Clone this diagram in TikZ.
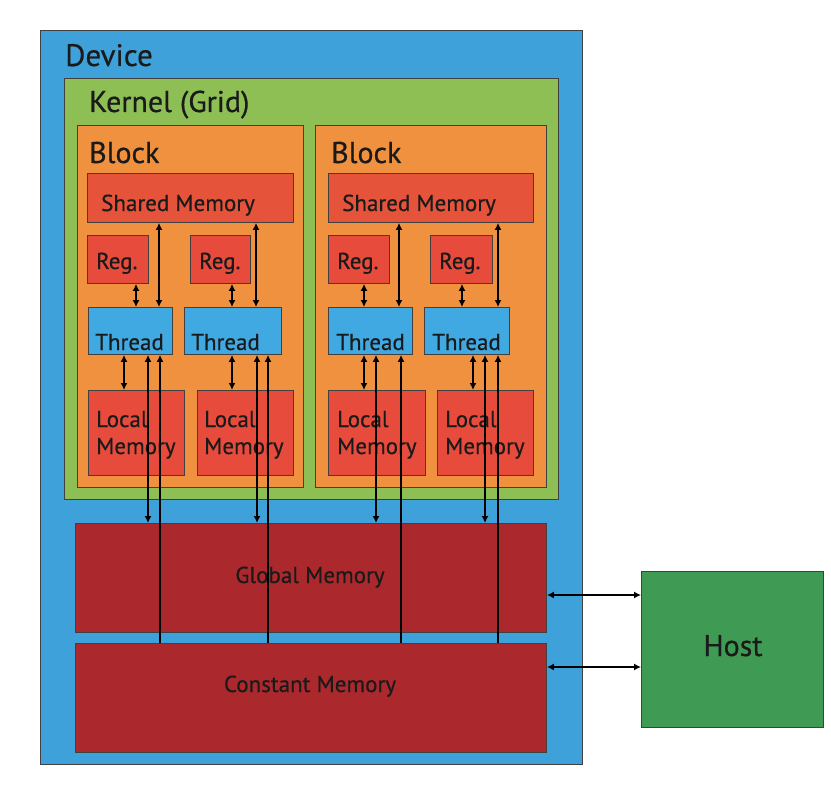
\documentclass[tikz,border=0pt]{standalone}
\usepackage{fontspec}
\setmainfont{PT Sans}[FakeBold=0.5]
\usetikzlibrary{arrows.meta}
\definecolor{devblue}{HTML}{3FA1D9}
\definecolor{kgreen}{HTML}{8DBF55}
\definecolor{borange}{HTML}{EF913F}
\definecolor{shred}{HTML}{E5533B}
\definecolor{regred}{HTML}{E74B3C}
\definecolor{thblue}{HTML}{41A9E1}
\definecolor{gmem}{HTML}{AB292D}
\definecolor{hostgreen}{HTML}{3F9B53}
\definecolor{txtc}{HTML}{1A1A1A}
\begin{document}
\begin{tikzpicture}[x=1pt,y=-1pt,
  box/.style={draw=black!75, line width=0.9pt, anchor=north west, inner sep=0pt},
  big/.style={text=txtc, inner sep=0pt, font=\fontsize{30}{32}\selectfont},
  small/.style={text=txtc, inner sep=0pt, font=\fontsize{23}{25}\selectfont},
  arr/.style={line width=1.3pt, {Latex[length=7pt,width=7pt]}-{Latex[length=7pt,width=7pt]}},
  uarr/.style={line width=1.3pt, -{Latex[length=7pt,width=7pt]}},
]
\useasboundingbox (0,0) rectangle (831,797);

% containers
\node[box, fill=devblue, minimum width=542pt, minimum height=734pt] (dev) at (40,30) {};
\node[big, anchor=base west, font=\fontsize{31}{33}\selectfont] (devlbl) at (65,66) {Device};
\node[box, fill=kgreen, minimum width=494pt, minimum height=421pt] (ker) at (64,78) {};
\node[big, anchor=base west] (kerlbl) at (89,112) {Kernel (Grid)};
\node[box, fill=borange, minimum width=226pt, minimum height=362pt] (b1) at (77,125) {};
\node[box, fill=borange, minimum width=231pt, minimum height=362pt] (b2) at (315,125) {};
\node[big, anchor=base west] (b1lbl) at (89,163) {Block};
\node[big, anchor=base west] (b2lbl) at (331,163) {Block};

% block 1
\node[box, fill=shred, minimum width=206pt, minimum height=49pt] (s1) at (87,173) {};
\node[small, anchor=base west] (s1lbl) at (101,211) {Shared Memory};
\node[box, fill=regred, minimum width=61pt, minimum height=48pt] (r11) at (87,235) {};
\node[box, fill=regred, minimum width=60pt, minimum height=48pt] (r12) at (190,235) {};
\node[small, anchor=base west] (r11lbl) at (96,269) {Reg.};
\node[small, anchor=base west] (r12lbl) at (199,269) {Reg.};
\node[box, fill=thblue, minimum width=84pt, minimum height=47pt] (t11) at (88,307) {};
\node[box, fill=thblue, minimum width=97pt, minimum height=47pt] (t12) at (184,307) {};
\node[small, anchor=base west] (t11lbl) at (95,350) {Thread};
\node[small, anchor=base west] (t12lbl) at (191,350) {Thread};
\node[box, fill=regred, minimum width=96pt, minimum height=85pt] (l11) at (88,390) {};
\node[box, fill=regred, minimum width=96pt, minimum height=85pt] (l12) at (197,390) {};
\node[small, anchor=base west] (l11a) at (96,427) {Local};
\node[small, anchor=base west] (l11b) at (96,454) {Memory};
\node[small, anchor=base west] (l12a) at (204,427) {Local};
\node[small, anchor=base west] (l12b) at (204,454) {Memory};

% block 2
\node[box, fill=shred, minimum width=205pt, minimum height=49pt] (s2) at (328,173) {};
\node[small, anchor=base west] (s2lbl) at (342,211) {Shared Memory};
\node[box, fill=regred, minimum width=61pt, minimum height=48pt] (r21) at (328,235) {};
\node[box, fill=regred, minimum width=62pt, minimum height=48pt] (r22) at (430,235) {};
\node[small, anchor=base west] (r21lbl) at (337,269) {Reg.};
\node[small, anchor=base west] (r22lbl) at (439,269) {Reg.};
\node[box, fill=thblue, minimum width=84pt, minimum height=47pt] (t21) at (328,307) {};
\node[box, fill=thblue, minimum width=85pt, minimum height=47pt] (t22) at (424,307) {};
\node[small, anchor=base west] (t21lbl) at (336,350) {Thread};
\node[small, anchor=base west] (t22lbl) at (432,350) {Thread};
\node[box, fill=regred, minimum width=97pt, minimum height=85pt] (l21) at (328,390) {};
\node[box, fill=regred, minimum width=96pt, minimum height=85pt] (l22) at (437,390) {};
\node[small, anchor=base west] (l21a) at (337,427) {Local};
\node[small, anchor=base west] (l21b) at (337,454) {Memory};
\node[small, anchor=base west] (l22a) at (445,427) {Local};
\node[small, anchor=base west] (l22b) at (445,454) {Memory};

% global / constant / host
\node[box, fill=gmem, minimum width=471pt, minimum height=109pt] (glob) at (75,523) {};
\node[small, anchor=base] (globlbl) at (310,583) {Global Memory};
\node[box, fill=gmem, minimum width=471pt, minimum height=109pt] (const) at (75,643) {};
\node[small, anchor=base] (constlbl) at (310,692) {Constant Memory};
\node[box, fill=hostgreen, minimum width=182pt, minimum height=156pt] (host) at (641,571) {};
\node[big, anchor=base] (hostlbl) at (733,656) {Host};

% reg <-> thread
\draw[arr] (136,0 |- r11.south) -- (136,0 |- t11.north);
\draw[arr] (232,0 |- r12.south) -- (232,0 |- t12.north);
\draw[arr] (364,0 |- r21.south) -- (364,0 |- t21.north);
\draw[arr] (462,0 |- r22.south) -- (462,0 |- t22.north);
% shared <-> thread
\draw[arr] (159,0 |- s1.south) -- (159,0 |- t11.north);
\draw[arr] (256,0 |- s1.south) -- (256,0 |- t12.north);
\draw[arr] (399,0 |- s2.south) -- (399,0 |- t21.north);
\draw[arr] (498,0 |- s2.south) -- (498,0 |- t22.north);
% thread <-> local
\draw[arr, line width=1.8pt] (124,0 |- t11.south) -- (124,0 |- l11.north);
\draw[arr, line width=1.8pt] (232,0 |- t12.south) -- (232,0 |- l12.north);
\draw[arr, line width=1.8pt] (364,0 |- t21.south) -- (364,0 |- l21.north);
\draw[arr, line width=1.8pt] (473,0 |- t22.south) -- (473,0 |- l22.north);
% thread <-> global
\draw[arr] (148,0 |- t11.south) -- (148,0 |- glob.north);
\draw[arr] (257,0 |- t12.south) -- (257,0 |- glob.north);
\draw[arr] (376,0 |- t21.south) -- (376,0 |- glob.north);
\draw[arr] (485,0 |- t22.south) -- (485,0 |- glob.north);
% constant -> thread
\draw[uarr] (160,0 |- const.north) -- (160,0 |- t11.south);
\draw[uarr] (268,0 |- const.north) -- (268,0 |- t12.south);
\draw[uarr] (401,0 |- const.north) -- (401,0 |- t21.south);
\draw[uarr] (498,0 |- const.north) -- (498,0 |- t22.south);
% host links
\draw[arr] (glob.east |- 0,595) -- (host.west |- 0,595);
\draw[arr] (const.east |- 0,667) -- (host.west |- 0,667);
\end{tikzpicture}
\end{document}
